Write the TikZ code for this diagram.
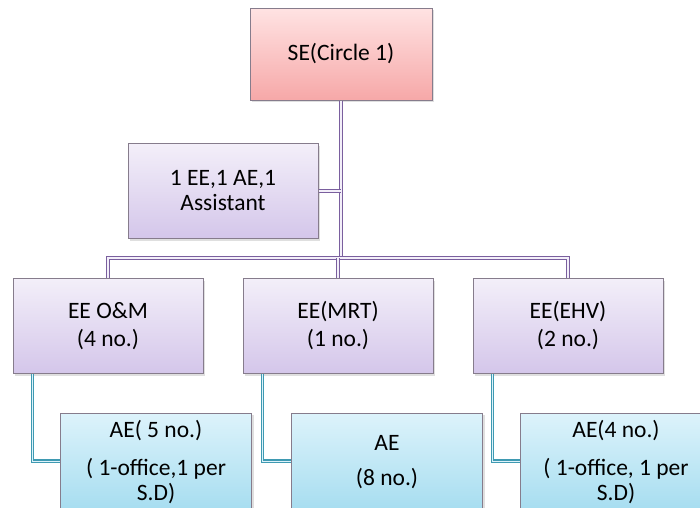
\documentclass[tikz,border=0pt]{standalone}
\usepackage{fontspec}
\setmainfont{Carlito}
\usetikzlibrary{calc,shadows}
\definecolor{seTop}{HTML}{FFE3E3}
\definecolor{seBot}{HTML}{F6A8A8}
\definecolor{eeTop}{HTML}{F3EFF9}
\definecolor{eeBot}{HTML}{D4C6EA}
\definecolor{aeTop}{HTML}{DDF3FB}
\definecolor{aeBot}{HTML}{A6DDF0}
\definecolor{upLine}{HTML}{7A5F9E}
\definecolor{lowLine}{HTML}{3F9AB2}
\definecolor{boxLine}{HTML}{867C8C}
\tikzset{
  box/.style={draw=boxLine,line width=1pt,rectangle,inner sep=0pt,align=center,
    font=\fontsize{23.5}{25}\selectfont,
    drop shadow={opacity=0.25,shadow xshift=2pt,shadow yshift=-2pt}},
  sebox/.style={box,top color=seTop,bottom color=seBot,minimum width=182pt,minimum height=92pt},
  eebox/.style={box,top color=eeTop,bottom color=eeBot,minimum width=190pt,minimum height=95pt},
  aebox/.style={box,top color=aeTop,bottom color=aeBot,minimum width=191pt,minimum height=98pt},
  upline/.style={upLine,line width=1.4pt,double=eeTop,double distance=1.2pt},
  lowline/.style={lowLine,line width=1.3pt,double=aeTop,double distance=1pt}
}
\begin{document}
\begin{tikzpicture}[x=1pt,y=-1pt]
            \useasboundingbox (0,0) rectangle (700,507);
            \clip (0,0) rectangle (700,507);
            \coordinate (bus) at (341,258);
            \node[sebox] (se) at (341,54){SE(Circle 1)};
            \node[eebox] (asst) at (223,191){1 EE,1 AE,1\\Assistant};
            \node[eebox] (om) at (108,326){EE O\&M\\[3pt](4 no.)};
            \node[eebox] (mrt) at (338,326){EE(MRT)\\[3pt](1 no.)};
            \node[eebox] (ehv) at (568,326){EE(EHV)\\[3pt](2 no.)};
            \node[aebox] (ae5) at (156,462){AE( 5 no.)\\[13pt]( 1-office,1 per\\S.D)};
            \node[aebox] (ae8) at (387,462){AE\\[10pt](8 no.)};
            \node[aebox] (ae4) at (616,462){AE(4 no.)\\[13pt]( 1-office, 1 per\\S.D)};

            \draw[upline] (se.south) -- (bus);
            \draw[upline] (asst.east) -- (asst.east -| bus);
            \draw[upline] (om.north) |- (bus) -| (ehv.north);
            \draw[upline] (mrt.north) -- (mrt.north |- bus);
            \draw[lowline] ([xshift=20pt]om.south west) |- (ae5.west |- 0,461);
            \draw[lowline] ([xshift=20pt]mrt.south west) |- (ae8.west |- 0,461);
            \draw[lowline] ([xshift=20pt]ehv.south west) |- (ae4.west |- 0,461);
          \end{tikzpicture}
\end{document}
